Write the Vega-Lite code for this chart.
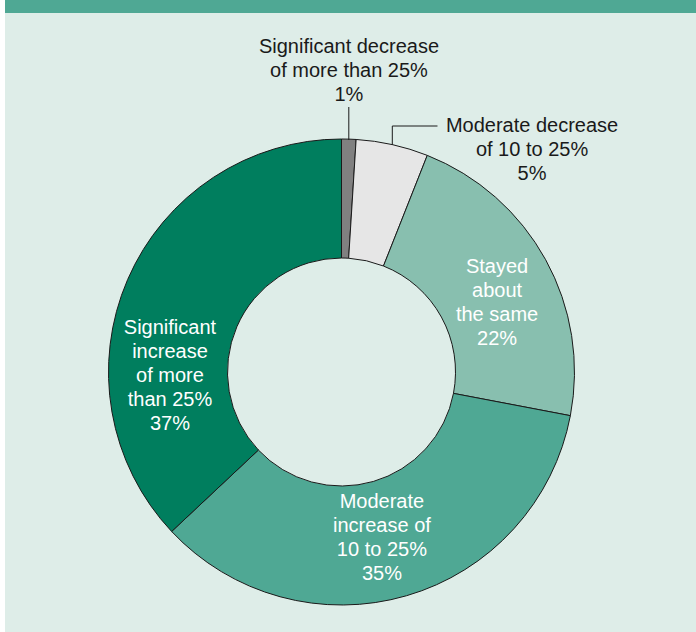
{
  "$schema": "https://vega.github.io/schema/vega-lite/v6.json",
  "background": "white",
  "padding": {"left": 5, "top": 0, "right": 0, "bottom": 0},
  "spacing": 0,
  "config": {"view": {"stroke": null}, "font": "Liberation Sans"},
  "vconcat": [
    {
      "width": 691,
      "height": 13,
      "view": {"fill": "#4fa894", "stroke": null},
      "data": {"values": []},
      "mark": "text",
      "encoding": {}
    },
    {
      "width": 691,
      "height": 619,
      "view": {"fill": "#deede8", "stroke": null},
      "data": {
        "values": [
          {"order": 1, "category": "Significant decrease of more than 25%", "value": 1, "label": "Significant decrease\nof more than 25%\n1%"},
          {"order": 2, "category": "Moderate decrease of 10 to 25%", "value": 5, "label": "Moderate decrease\nof 10 to 25%\n5%"},
          {"order": 3, "category": "Stayed about the same", "value": 22, "label": "Stayed\nabout\nthe same\n22%"},
          {"order": 4, "category": "Moderate increase of 10 to 25%", "value": 35, "label": "Moderate\nincrease of\n10 to 25%\n35%"},
          {"order": 5, "category": "Significant increase of more than 25%", "value": 37, "label": "Significant\nincrease\nof more\nthan 25%\n37%"}
        ]
      },
      "layer": [
        {
          "mark": {"type": "arc", "innerRadius": 114, "outerRadius": 233, "stroke": "#1a1a1a", "strokeWidth": 1, "xOffset": -9, "yOffset": 49.5},
          "encoding": {
            "theta": {"field": "value", "type": "quantitative", "stack": true},
            "order": {"field": "order", "type": "quantitative"},
            "color": {
              "field": "category",
              "type": "nominal",
              "legend": null,
              "scale": {
                "domain": ["Significant decrease of more than 25%", "Moderate decrease of 10 to 25%", "Stayed about the same", "Moderate increase of 10 to 25%", "Significant increase of more than 25%"],
                "range": ["#808080", "#e6e6e6", "#88bfaf", "#4fa894", "#007e5e"]
              }
            }
          }
        },
        {
          "mark": {"type": "text", "radius": 301, "dx": -2, "dy": -24, "xOffset": -9, "yOffset": 49.5, "fontSize": 20, "lineHeight": 24, "lineBreak": "\n", "align": "center", "baseline": "middle", "fill": "#1a1a1a"},
          "encoding": {
            "theta": {"field": "value", "type": "quantitative", "stack": true},
            "order": {"field": "order", "type": "quantitative"},
            "text": {"condition": {"test": "datum.order == 1", "field": "label"}, "value": ""}
          }
        },
        {
          "mark": {"type": "text", "radius": 250, "dx": 136, "dy": -2, "xOffset": -9, "yOffset": 49.5, "fontSize": 20, "lineHeight": 24, "lineBreak": "\n", "align": "center", "baseline": "middle", "fill": "#1a1a1a"},
          "encoding": {
            "theta": {"field": "value", "type": "quantitative", "stack": true},
            "order": {"field": "order", "type": "quantitative"},
            "text": {"condition": {"test": "datum.order == 2", "field": "label"}, "value": ""}
          }
        },
        {
          "mark": {"type": "text", "radius": 173.5, "dx": 3.5, "dy": -21, "xOffset": -9, "yOffset": 49.5, "fontSize": 20, "lineHeight": 24, "lineBreak": "\n", "align": "center", "baseline": "middle", "fill": "white"},
          "encoding": {
            "theta": {"field": "value", "type": "quantitative", "stack": true},
            "order": {"field": "order", "type": "quantitative"},
            "text": {"condition": {"test": "datum.order == 3", "field": "label"}, "value": ""}
          }
        },
        {
          "mark": {"type": "text", "radius": 173.5, "dx": -8, "dy": -36.6, "xOffset": -9, "yOffset": 49.5, "fontSize": 20, "lineHeight": 24, "lineBreak": "\n", "align": "center", "baseline": "middle", "fill": "white"},
          "encoding": {
            "theta": {"field": "value", "type": "quantitative", "stack": true},
            "order": {"field": "order", "type": "quantitative"},
            "text": {"condition": {"test": "datum.order == 4", "field": "label"}, "value": ""}
          }
        },
        {
          "mark": {"type": "text", "radius": 173.5, "dx": -12.3, "dy": 25, "xOffset": -9, "yOffset": 49.5, "fontSize": 20, "lineHeight": 24, "lineBreak": "\n", "align": "center", "baseline": "middle", "fill": "white"},
          "encoding": {
            "theta": {"field": "value", "type": "quantitative", "stack": true},
            "order": {"field": "order", "type": "quantitative"},
            "text": {"condition": {"test": "datum.order == 5", "field": "label"}, "value": ""}
          }
        },
        {
          "transform": [{"filter": "datum.order == 1"}],
          "mark": {"type": "rule", "stroke": "#1a1a1a", "strokeWidth": 1},
          "encoding": {
            "x": {"value": 343.8},
            "y": {"value": 94},
            "y2": {"value": 127}
          }
        },
        {
          "transform": [{"filter": "datum.order == 2"}],
          "mark": {"type": "rule", "stroke": "#1a1a1a", "strokeWidth": 1},
          "encoding": {
            "x": {"value": 387.3},
            "y": {"value": 113},
            "y2": {"value": 132}
          }
        },
        {
          "transform": [{"filter": "datum.order == 2"}],
          "mark": {"type": "rule", "stroke": "#1a1a1a", "strokeWidth": 1},
          "encoding": {
            "x": {"value": 387.3},
            "x2": {"value": 432.5},
            "y": {"value": 113}
          }
        }
      ]
    }
  ]
}
